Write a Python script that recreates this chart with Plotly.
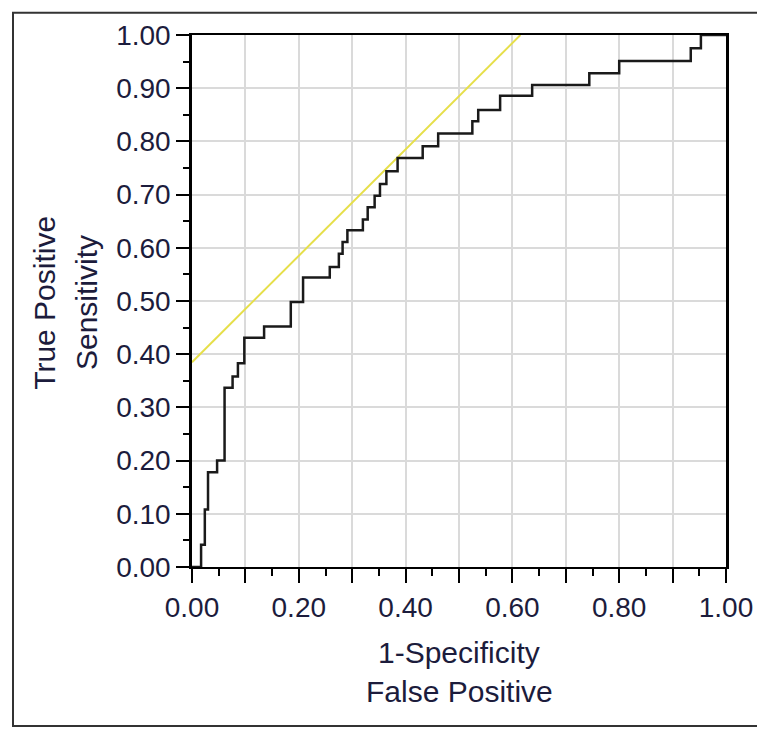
import plotly.graph_objects as go

# ROC step curve (corner points: x then rise to y)
fpr = [0.0, 0.017, 0.024, 0.030, 0.047, 0.061, 0.076, 0.086, 0.098, 0.135,
       0.185, 0.208, 0.258, 0.275, 0.282, 0.291, 0.320, 0.329, 0.342, 0.352,
       0.364, 0.385, 0.432, 0.461, 0.525, 0.536, 0.577, 0.637, 0.744, 0.800,
       0.934, 0.953, 1.000]
tpr = [0.0, 0.042, 0.108, 0.178, 0.200, 0.337, 0.358, 0.383, 0.431, 0.452,
       0.498, 0.544, 0.564, 0.589, 0.611, 0.633, 0.653, 0.676, 0.698, 0.720,
       0.744, 0.769, 0.791, 0.815, 0.838, 0.859, 0.886, 0.906, 0.928, 0.951,
       0.975, 1.000, 1.000]

# tangent line
tan_x = [0.0, 0.615]
tan_y = [0.385, 1.0]

x_tickvals = [0.0, 0.1, 0.2, 0.3, 0.4, 0.5, 0.6, 0.7, 0.8, 0.9, 1.0]
x_ticktext = ["0.00", "", "0.20", "", "0.40", "", "0.60", "", "0.80", "", "1.00"]
y_tickvals = [0.0, 0.1, 0.2, 0.3, 0.4, 0.5, 0.6, 0.7, 0.8, 0.9, 1.0]
y_ticktext = ["0.00", "0.10", "0.20", "0.30", "0.40", "0.50", "0.60", "0.70", "0.80", "0.90", "1.00"]

x_title = ["1-Specificity", "False Positive"]
y_title = ["True Positive", "Sensitivity"]

TXT = "#1c1c3c"
FONT = "Liberation Sans, Arial, sans-serif"

fig = go.Figure()
fig.add_trace(go.Scatter(x=tan_x, y=tan_y, mode="lines",
                         line=dict(color="#e6df4a", width=2), hoverinfo="skip"))
fig.add_trace(go.Scatter(x=fpr, y=tpr, mode="lines", line_shape="hv",
                         line=dict(color="#1a1a1a", width=2.5)))

# page has an 8px body margin, so the figure is 757x723 and offsets are reduced
fig.update_layout(
    width=757, height=723,
    margin=dict(l=184, r=36, t=22, b=163.5),
    paper_bgcolor="white", plot_bgcolor="white",
    showlegend=False,
    font=dict(family=FONT, color=TXT),
)

fig.update_xaxes(
    range=[0, 1], tickvals=x_tickvals, ticktext=x_ticktext,
    ticks="outside", ticklen=14, tickwidth=2, tickcolor="black",
    showline=True, linecolor="black", linewidth=2, mirror=True,
    showgrid=True, gridcolor="#dadada", gridwidth=2,
    zeroline=False,
    tickfont=dict(size=28, color=TXT, family=FONT),
    minor=dict(dtick=0.05, tick0=0, ticks="outside", ticklen=7, tickwidth=2,
               tickcolor="black", showgrid=False),
)
fig.update_yaxes(
    range=[0, 1], tickvals=y_tickvals, ticktext=y_ticktext,
    ticks="outside", ticklen=13, tickwidth=2, tickcolor="black",
    showline=True, linecolor="black", linewidth=2.5, mirror=True,
    showgrid=True, gridcolor="#dadada", gridwidth=2,
    zeroline=False,
    tickfont=dict(size=28, color=TXT, family=FONT),
    minor=dict(dtick=0.05, tick0=0, ticks="outside", ticklen=6, tickwidth=2,
               tickcolor="black", showgrid=False),
)

# axis titles
fig.add_annotation(text=x_title[0], xref="paper", yref="paper", x=0.5, y=-0.161,
                   showarrow=False, xanchor="center", yanchor="middle",
                   font=dict(size=30, color=TXT, family=FONT))
fig.add_annotation(text=x_title[1], xref="paper", yref="paper", x=0.5, y=-0.2337,
                   showarrow=False, xanchor="center", yanchor="middle",
                   font=dict(size=30, color=TXT, family=FONT))
fig.add_annotation(text=y_title[0], xref="paper", yref="paper", x=-0.2756, y=0.4963,
                   showarrow=False, xanchor="center", yanchor="middle", textangle=-90,
                   font=dict(size=30, color=TXT, family=FONT))
fig.add_annotation(text=y_title[1], xref="paper", yref="paper", x=-0.1965, y=0.4963,
                   showarrow=False, xanchor="center", yanchor="middle", textangle=-90,
                   font=dict(size=30, color=TXT, family=FONT))

# outer frame
fig.add_shape(type="rect", xref="paper", yref="paper",
              x0=-0.3352, x1=1.0633, y0=-0.2989, y1=1.0419,
              line=dict(color="#333333", width=2), fillcolor="rgba(0,0,0,0)",
              layer="below")

fig.write_html("out.html")
